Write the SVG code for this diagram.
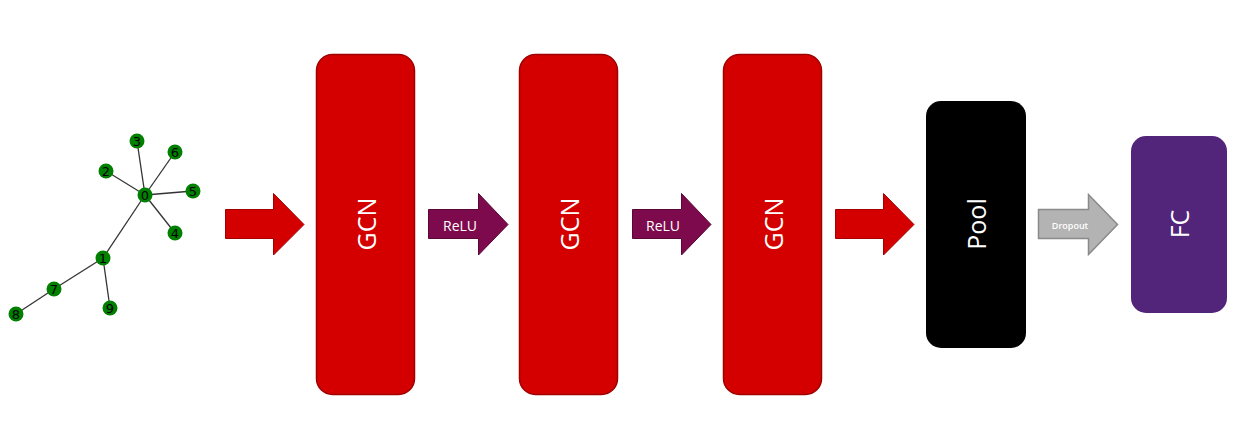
<svg xmlns="http://www.w3.org/2000/svg" width="1251" height="428" viewBox="0 0 1251 428">
<style>
.edge{stroke:#333;stroke-width:1.3;fill:none}
.gn{fill:#008000}
.gl{font-family:"DejaVu Sans",sans-serif;font-size:13px;fill:#000;text-anchor:middle;dominant-baseline:central}
.gcn{fill:#D40000;stroke:#A00000;stroke-width:1.5}
.red{fill:#D40000;stroke:#A30000;stroke-width:1}
.relu{fill:#7E0A4E;stroke:#5A0636;stroke-width:1}
.drop{fill:#B3B3B3;stroke:#8A8A8A;stroke-width:1.5}
.big{font-family:"Open Sans","Noto Sans",sans-serif;font-size:25px;fill:#fff;text-anchor:middle;dominant-baseline:central}
.sm{font-family:"Open Sans","Noto Sans",sans-serif;fill:#fff;text-anchor:middle;dominant-baseline:central}
</style>
<rect width="1251" height="428" fill="#fff"/>
<g id="graph">
  <g id="graph-edges">
    <line class="edge" x1="145" y1="195" x2="137" y2="141"/>
    <line class="edge" x1="145" y1="195" x2="175" y2="152"/>
    <line class="edge" x1="145" y1="195" x2="106" y2="171"/>
    <line class="edge" x1="145" y1="195" x2="193" y2="191"/>
    <line class="edge" x1="145" y1="195" x2="175" y2="233"/>
    <line class="edge" x1="145" y1="195" x2="103" y2="258"/>
    <line class="edge" x1="103" y1="258" x2="54" y2="289"/>
    <line class="edge" x1="103" y1="258" x2="110" y2="308"/>
    <line class="edge" x1="54" y1="289" x2="16" y2="314"/>
  </g>
  <g id="g0"><circle class="gn" cx="145" cy="195" r="7.5"/><text class="gl" x="145" y="195">0</text></g>
  <g id="g1"><circle class="gn" cx="103" cy="258" r="7.5"/><text class="gl" x="103" y="258">1</text></g>
  <g id="g2"><circle class="gn" cx="106" cy="171" r="7.5"/><text class="gl" x="106" y="171">2</text></g>
  <g id="g3"><circle class="gn" cx="137" cy="141" r="7.5"/><text class="gl" x="137" y="141">3</text></g>
  <g id="g4"><circle class="gn" cx="175" cy="233" r="7.5"/><text class="gl" x="175" y="233">4</text></g>
  <g id="g5"><circle class="gn" cx="193" cy="191" r="7.5"/><text class="gl" x="193" y="191">5</text></g>
  <g id="g6"><circle class="gn" cx="175" cy="152" r="7.5"/><text class="gl" x="175" y="152">6</text></g>
  <g id="g7"><circle class="gn" cx="54" cy="289" r="7.5"/><text class="gl" x="54" y="289">7</text></g>
  <g id="g8"><circle class="gn" cx="16" cy="314" r="7.5"/><text class="gl" x="16" y="314">8</text></g>
  <g id="g9"><circle class="gn" cx="110" cy="308" r="7.5"/><text class="gl" x="110" y="308">9</text></g>
</g>
<g id="connectors">
  <polygon class="red" points="225.5,209.5 273.5,209.5 273.5,193.5 304,224.5 273.5,255 273.5,238.5 225.5,238.5"/>
  <polygon class="relu" points="428.5,209.5 478.5,209.5 478.5,193.5 508,224.5 478.5,255 478.5,238.5 428.5,238.5"/>
  <text class="sm" x="460" y="225" font-size="14">ReLU</text>
  <polygon class="relu" points="632.5,209.5 681.5,209.5 681.5,193.5 711,224.5 681.5,255 681.5,238.5 632.5,238.5"/>
  <text class="sm" x="663" y="225" font-size="14">ReLU</text>
  <polygon class="red" points="835.5,209.5 883.5,209.5 883.5,193.5 914,224.5 883.5,255 883.5,238.5 835.5,238.5"/>
  <polygon class="drop" points="1038.5,209.5 1088.5,209.5 1088.5,194.5 1117.5,224.5 1088.5,254.5 1088.5,238.5 1038.5,238.5"/>
  <text class="sm" x="1070" y="225" font-size="9" font-weight="600">Dropout</text>
</g>
<g id="gcn1"><rect class="gcn" x="316.5" y="54.5" width="98" height="340" rx="16"/><text class="big" transform="translate(366 224) rotate(-90)">GCN</text></g>
<g id="gcn2"><rect class="gcn" x="519.5" y="54.5" width="98" height="340" rx="16"/><text class="big" transform="translate(569 224) rotate(-90)">GCN</text></g>
<g id="gcn3"><rect class="gcn" x="723.5" y="54.5" width="98" height="340" rx="16"/><text class="big" transform="translate(773 224) rotate(-90)">GCN</text></g>
<g id="pool"><rect x="926" y="101" width="100" height="247" rx="15" fill="#000"/><text class="big" transform="translate(976 224) rotate(-90)">Pool</text></g>
<g id="fc"><rect x="1131" y="136" width="96" height="177" rx="15" fill="#52247A"/><text class="big" transform="translate(1179 224) rotate(-90)">FC</text></g>
</svg>
